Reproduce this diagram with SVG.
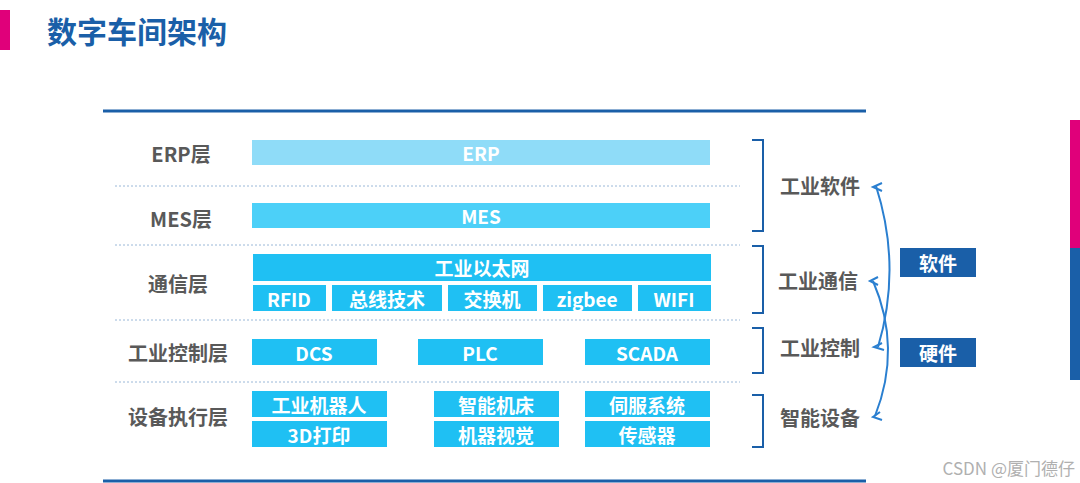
<svg xmlns="http://www.w3.org/2000/svg" width="1080" height="483" viewBox="0 0 1080 483">
<style>
.lbl{font-family:"Noto Sans CJK SC","Liberation Sans",sans-serif;font-weight:bold;font-size:20px;fill:#595959;text-anchor:middle;dominant-baseline:central}
.bt{font-family:"Noto Sans CJK SC","Liberation Sans",sans-serif;font-weight:bold;font-size:19px;fill:#fff;text-anchor:middle;dominant-baseline:central}
.b{fill:#1fc0f3}
.sep{stroke:#9ab8d8;stroke-width:1;stroke-dasharray:2 2}
.br{fill:none;stroke:#1a5fa8;stroke-width:2}
.cb{fill:none;stroke:#2a7fd0;stroke-width:2}
</style>
<rect width="1080" height="483" fill="#fff"/>
<rect x="0" y="10" width="10" height="40" fill="#e0007a"/>
<text x="47" y="30" style="font-family:'Noto Sans CJK SC',sans-serif;font-weight:bold;font-size:30px;fill:#1a5fa8;dominant-baseline:central">数字车间架构</text>
<rect x="1070" y="120" width="10" height="128" fill="#e0007a"/>
<rect x="1070" y="248" width="10" height="132" fill="#1a5fa8"/>
<g id="frame">
<line x1="103" y1="111" x2="866" y2="111" stroke="#1a5fa8" stroke-width="3"/>
<line x1="103" y1="481" x2="866" y2="481" stroke="#1a5fa8" stroke-width="3"/>
<line class="sep" x1="115" y1="186" x2="740" y2="186"/>
<line class="sep" x1="115" y1="245" x2="740" y2="245"/>
<line class="sep" x1="115" y1="320" x2="740" y2="320"/>
<line class="sep" x1="115" y1="382" x2="740" y2="382"/>
</g>
<g id="layer-labels">
<text class="lbl" x="181" y="153">ERP层</text>
<text class="lbl" x="181" y="218">MES层</text>
<text class="lbl" x="178" y="283">通信层</text>
<text class="lbl" x="178" y="352">工业控制层</text>
<text class="lbl" x="178" y="416">设备执行层</text>
</g>
<g id="erp"><rect x="252" y="140" width="458" height="25" fill="#8fdcf8"/><text class="bt" x="481" y="152">ERP</text></g>
<g id="mes"><rect x="252" y="203" width="458" height="25" fill="#4cd0f8"/><text class="bt" x="481" y="215">MES</text></g>
<g id="comm">
<rect class="b" x="253" y="254" width="458" height="27"/><text class="bt" x="482" y="267">工业以太网</text>
<rect class="b" x="253" y="285" width="73" height="26"/><text class="bt" x="289" y="298">RFID</text>
<rect class="b" x="332" y="285" width="110" height="26"/><text class="bt" x="387" y="298">总线技术</text>
<rect class="b" x="448" y="285" width="89" height="26"/><text class="bt" x="492" y="298">交换机</text>
<rect class="b" x="543" y="285" width="89" height="26"/><text class="bt" x="587" y="298">zigbee</text>
<rect class="b" x="638" y="285" width="73" height="26"/><text class="bt" x="674" y="298">WIFI</text>
</g>
<g id="ctrl">
<rect class="b" x="252" y="339" width="125" height="26"/><text class="bt" x="314" y="352">DCS</text>
<rect class="b" x="418" y="339" width="125" height="26"/><text class="bt" x="480" y="352">PLC</text>
<rect class="b" x="585" y="339" width="125" height="26"/><text class="bt" x="647" y="352">SCADA</text>
</g>
<g id="devices">
<rect class="b" x="252" y="391" width="135" height="26"/><text class="bt" x="319" y="404">工业机器人</text>
<rect class="b" x="434" y="391" width="125" height="26"/><text class="bt" x="496" y="404">智能机床</text>
<rect class="b" x="585" y="391" width="125" height="26"/><text class="bt" x="647" y="404">伺服系统</text>
<rect class="b" x="252" y="421" width="135" height="26"/><text class="bt" x="319" y="434">3D打印</text>
<rect class="b" x="434" y="421" width="125" height="26"/><text class="bt" x="496" y="434">机器视觉</text>
<rect class="b" x="585" y="421" width="125" height="26"/><text class="bt" x="647" y="434">传感器</text>
</g>
<g id="connectors">
<path class="br" d="M752 140 H763 V231 H752"/>
<path class="br" d="M752 246 H763 V313 H752"/>
<path class="br" d="M752 328 H763 V373 H752"/>
<path class="br" d="M752 395 H763 V447 H752"/>
<path class="cb" d="M876 186 Q902 267 878 347"/>
<path class="cb" d="M873 281 Q902 348 875 416"/>
<path class="cb" d="M882 183 L873 187 L882 191 M882 343 L874 347 L884 350 M878 277 L870 281 L878 285 M880 412 L873 417 L882 420"/>
</g>
<g id="right-labels">
<text class="lbl" x="820" y="185">工业软件</text>
<text class="lbl" x="818" y="280">工业通信</text>
<text class="lbl" x="820" y="347">工业控制</text>
<text class="lbl" x="820" y="417">智能设备</text>
</g>
<g id="software"><rect x="900" y="248" width="76" height="29" fill="#1a5fa8"/><text class="bt" x="938" y="262">软件</text></g>
<g id="hardware"><rect x="900" y="338" width="76" height="29" fill="#1a5fa8"/><text class="bt" x="938" y="352">硬件</text></g>
<text x="1075" y="467" style="font-family:'Noto Sans CJK SC',sans-serif;font-size:17px;fill:#b0b0b0;text-anchor:end;dominant-baseline:central">CSDN @厦门德仔</text>
</svg>
